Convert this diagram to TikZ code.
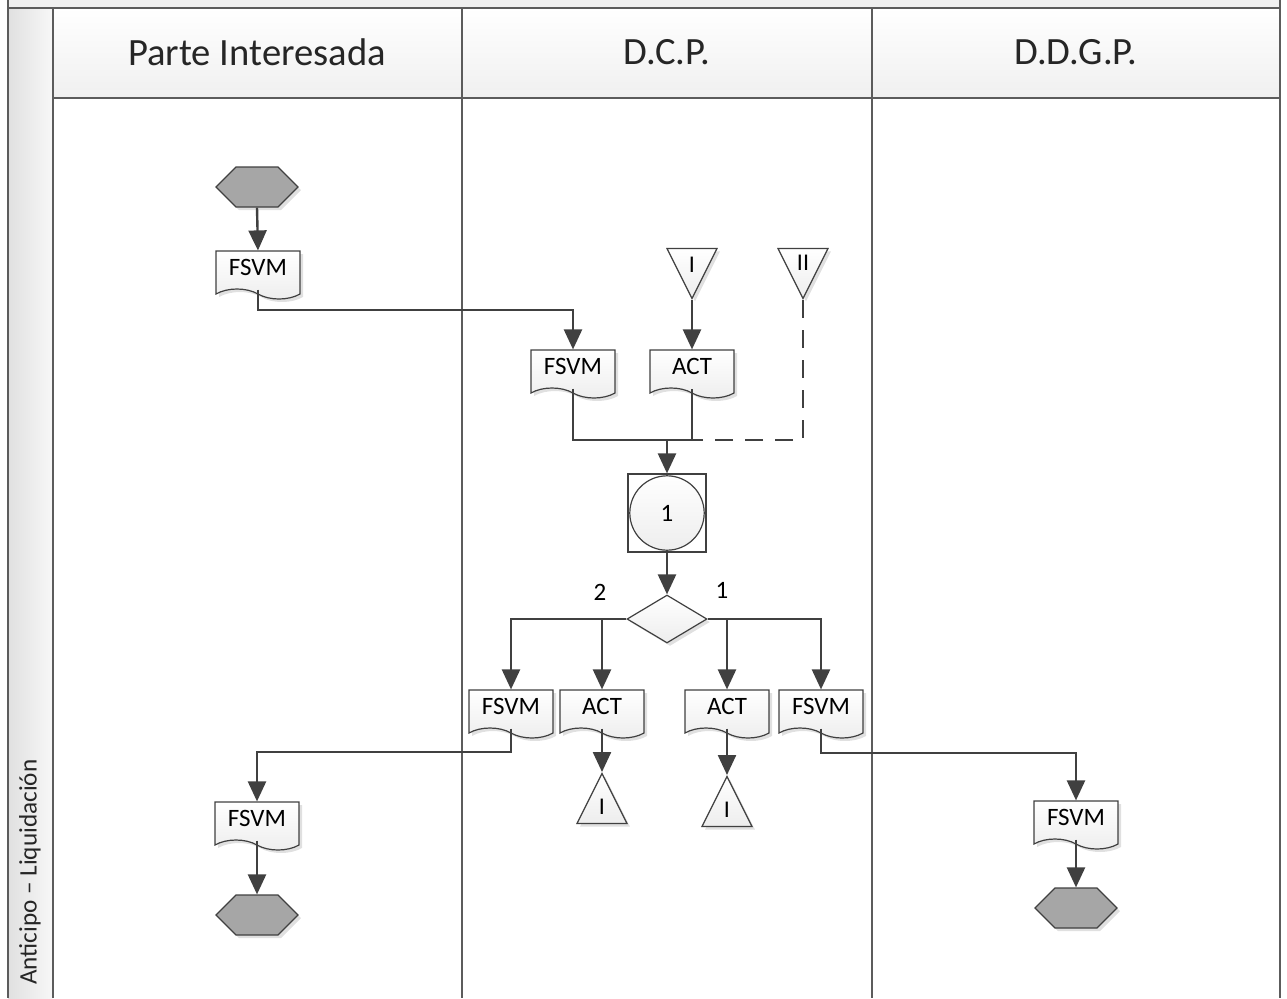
\documentclass[tikz,border=0pt]{standalone}
\usepackage{fontspec}
\setmainfont{Carlito}
\usetikzlibrary{shapes.geometric,shapes.symbols,arrows.meta,shadows}

\definecolor{linegray}{HTML}{404040}
\definecolor{framegray}{HTML}{5C5C5C}
\definecolor{termgray}{HTML}{A6A6A6}

\tikzset{
  lane/.style={draw=framegray, line width=1.1pt},
  head/.style={font=\fontsize{19.3}{22}\selectfont, text=black!85},
  flow/.style={draw=linegray, line width=1.2pt, -{Triangle[length=10pt,width=9pt]}},
  link/.style={draw=linegray, line width=1.2pt},
  dashlink/.style={link, dash pattern=on 9pt off 6pt},
  softshadow/.style={drop shadow={shadow xshift=1.5pt, shadow yshift=-1.5pt, fill=black, opacity=0.12}},
  doc/.style={tape, tape bend top=none, tape bend bottom=out and in, tape bend height=5pt,
    draw=linegray, line width=0.6pt, top color=white, bottom color=gray!14, softshadow,
    minimum width=42pt, minimum height=24pt, inner sep=1pt, text depth=3pt,
    font=\fontsize{12.5}{14}\selectfont},
  term/.style={signal, signal to=east and west, draw=linegray, line width=0.6pt, fill=termgray,
    softshadow, minimum width=41pt, minimum height=20pt, inner sep=0pt},
  offpg/.style={isosceles triangle, isosceles triangle stretches, shape border rotate=-90,
    draw=linegray, line width=0.6pt, top color=white, bottom color=gray!14, softshadow,
    minimum width=25pt, minimum height=25pt, inner sep=0pt, font=\fontsize{12}{14}\selectfont},
  onpg/.style={offpg, shape border rotate=90},
  conn/.style={rectangle, draw=linegray, line width=0.6pt, fill=white, minimum size=39pt, inner sep=0pt,
    font=\fontsize{12.5}{14}\selectfont,
    path picture={\shade[draw=linegray, line width=0.6pt, top color=white, bottom color=gray!14]
      (path picture bounding box.center) circle (18.6pt);}},
  dec/.style={diamond, draw=linegray, line width=0.6pt, top color=white, bottom color=gray!14, softshadow,
    minimum width=40pt, minimum height=24pt, inner sep=0pt},
  lbl/.style={font=\fontsize{12.5}{14}\selectfont}
}

\begin{document}
\begin{tikzpicture}[x=0.5pt,y=-0.5pt]
\useasboundingbox (0,0) rectangle (1287,998);

% swimlane frame
\fill[gray!12] (8,0) rectangle (1280,8);
\shade[left color=gray!24, right color=gray!6] (8,8) rectangle (53,998);
\foreach \xa/\xb in {53/462,462/872,872/1280}
  \shade[top color=white, bottom color=gray!12] (\xa,8) rectangle (\xb,98);
\draw[lane] (8,0) -- (8,998);
\draw[lane] (1280,0) -- (1280,998);
\draw[lane] (8,8) -- (1280,8);
\draw[lane] (53,98) -- (1280,98);
\foreach \xl in {53,462,872}
  \draw[lane] (\xl,8) -- (\xl,998);

\node[head] (hdPI) at (257,52) {Parte Interesada};
\node[head] (hdDCP) at (667,52) {D.C.P.};
\node[head] (hdDDGP) at (1076,52) {D.D.G.P.};
\node[rotate=90, anchor=west, font=\fontsize{12.6}{14}\selectfont, text=black!85] (laneAL) at (30,992) {Anticipo – Liquidación};

% shapes
\node[term] (startPI) at (257,187) {};
\node[doc] (fsvmA) at (258,270) {FSVM};
\node[offpg, anchor=apex] (offI) at (692,300) {I};
\node[offpg, anchor=apex] (offII) at (803,300) {II};
\node[doc] (fsvmB) at (573,369) {FSVM};
\node[doc] (actA) at (692,369) {ACT};
\node[conn] (cnt) at (667,513) {1};
\node[dec] (dec) at (667,619) {};
\node[lbl] (lblTwo) at (600,592) {2};
\node[lbl] (lblOne) at (722,590) {1};
\node[doc] (fsvmC) at (511,709) {FSVM};
\node[doc] (actB) at (602,709) {ACT};
\node[doc] (actC) at (727,709) {ACT};
\node[doc] (fsvmD) at (821,709) {FSVM};
\node[onpg, anchor=apex] (inB) at (602,772) {I};
\node[onpg, anchor=apex] (inC) at (727,775) {I};
\node[doc] (fsvmE) at (257,821) {FSVM};
\node[doc] (fsvmF) at (1076,820) {FSVM};
\node[term] (endPI) at (257,915) {};
\node[term] (endDDGP) at (1076,908) {};

% bends
\coordinate (jA) at (573,310);
\coordinate (jB) at (667,440);
\coordinate (jC) at (257,752);
\coordinate (jD) at (1076,753);

% connectors
\draw[flow] (startPI.south) -- (fsvmA.north);
\draw[flow] (fsvmA.south) |- (jA) -- (fsvmB.north);
\draw[flow] (offI.apex) -- (actA.north);
\draw[link] (fsvmB.south) |- (actA.south |- jB) -- (actA.south);
\draw[dashlink] (offII.apex) |- (actA.south |- jB);
\draw[flow] (jB) -- (cnt.north);
\draw[flow] (cnt.south) -- (dec.north);
\draw[flow] (dec.west) -| (fsvmC.north);
\draw[flow] (actB.north |- dec.west) -- (actB.north);
\draw[flow] (dec.east) -| (fsvmD.north);
\draw[flow] (actC.north |- dec.east) -- (actC.north);
\draw[flow] (actB.south) -- (inB.apex);
\draw[flow] (actC.south) -- (inC.apex);
\draw[flow] (fsvmC.south) |- (jC) -- (fsvmE.north);
\draw[flow] (fsvmD.south) |- (jD) -- (fsvmF.north);
\draw[flow] (fsvmE.south) -- (endPI.north);
\draw[flow] (fsvmF.south) -- (endDDGP.north);
\end{tikzpicture}
\end{document}
